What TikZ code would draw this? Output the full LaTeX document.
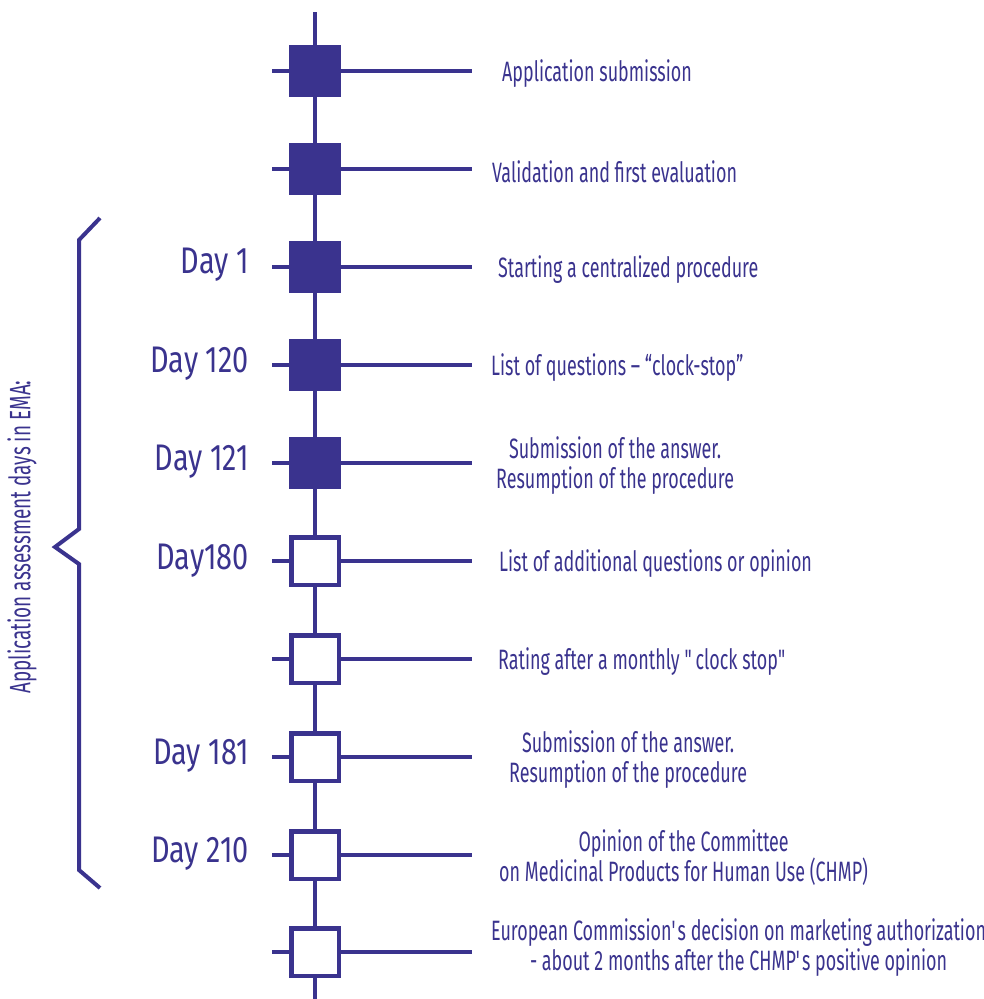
\documentclass[tikz,border=0pt]{standalone}
\usepackage{fontspec}
\setmainfont{Fira Sans}[FakeStretch=0.64]
\newfontfamily\dayfont{Fira Sans}[FakeStretch=0.78]
\usepackage{tikz}
\usetikzlibrary{positioning}
\definecolor{ema}{RGB}{58,51,142}

\begin{document}
\begin{tikzpicture}[x=1pt,y=-1pt,
solidsq/.style={rectangle, draw=ema, fill=ema, line width=4.5pt, minimum size=47.5pt, inner sep=0pt},
hollowsq/.style={rectangle, draw=ema, fill=white, line width=4.5pt, minimum size=47.5pt, inner sep=0pt},
wire/.style={draw=ema, line width=4pt},
day/.style={anchor=east, inner sep=0pt, text=ema, font=\dayfont\fontsize{37}{40}\selectfont},
note/.style={anchor=west, inner sep=0pt, yshift=-2.5pt, align=center, text=ema, font=\fontsize{28}{30}\selectfont},
]
\useasboundingbox (0,0) rectangle (984,999);

% the time line
\node[solidsq] (s1) at (315,71) {};
\node[solidsq] (s2) at (315,169) {};
\node[solidsq] (s3) at (315,267) {};
\node[solidsq] (s4) at (315,365) {};
\node[solidsq] (s5) at (315,463) {};
\node[hollowsq] (s6) at (315,561) {};
\node[hollowsq] (s7) at (315,659) {};
\node[hollowsq] (s8) at (315,757) {};
\node[hollowsq] (s9) at (315,855) {};
\node[hollowsq] (s10) at (315,952) {};
\coordinate (top) at (315,12);
\coordinate (bottom) at (315,999);

\foreach \i in {1,...,10} {
  \coordinate[left=17pt of s\i] (l\i);
  \coordinate[right=131pt of s\i] (r\i);
}

\path[wire]
(top) edge (s1)
(s1) edge (s2)
(s2) edge (s3)
(s3) edge (s4)
(s4) edge (s5)
(s5) edge (s6)
(s6) edge (s7)
(s7) edge (s8)
(s8) edge (s9)
(s9) edge (s10)
(s10) edge (bottom)
;
\foreach \i in {1,...,10} {
  \path[wire] (l\i) edge (s\i) (s\i) edge (r\i);
}

% days
\node[day] (d3) at (249,265) {Day 1};
\node[day] (d4) at (249,364) {Day 120};
\node[day] (d5) at (249,462) {Day 121};
\node[day] (d6) at (249,561) {Day180};
\node[day] (d8) at (249,756) {Day 181};
\node[day] (d9) at (249,854) {Day 210};

% steps
\node[note] (n1) at (502,71) {Application submission};
\node[note] (n2) at (492,169) {Validation and first evaluation};
\node[note] (n3) at (498,267) {Starting a centralized procedure};
\node[note] (n4) at (491,365) {List of questions – “clock-stop”};
\node[note] (n5) at (496,463) {Submission of the answer.\\Resumption of the procedure};
\node[note] (n6) at (499,561) {List of additional questions or opinion};
\node[note] (n7) at (498,659) {Rating after a monthly \textquotedbl clock stop\textquotedbl};
\node[note] (n8) at (509,757) {Submission of the answer.\\Resumption of the procedure};
\node[note] (n9) at (499,855) {Opinion of the Committee\\on Medicinal Products for Human Use (CHMP)};
\node[note] (n10) at (491,945) {European Commission\textquotesingle s decision on marketing authorization\\- about 2 months after the CHMP\textquotesingle s positive opinion};

% brace
\coordinate (b1) at (100,218);
\coordinate (b2) at (79,240);
\coordinate (b3) at (79,529);
\coordinate (b4) at (55,547);
\coordinate (b5) at (79,564);
\coordinate (b6) at (79,870);
\coordinate (b7) at (100,888);
\draw[ema, line width=4pt] (b1) -- (b2) -- (b3) -- (b4) -- (b5) -- (b6) -- (b7);
\node[rotate=90, inner sep=0pt, text=ema, font=\fontsize{29.5}{31}\selectfont] (ema) at (22,537) {Application assessment days in EMA:};
\end{tikzpicture}
\end{document}
